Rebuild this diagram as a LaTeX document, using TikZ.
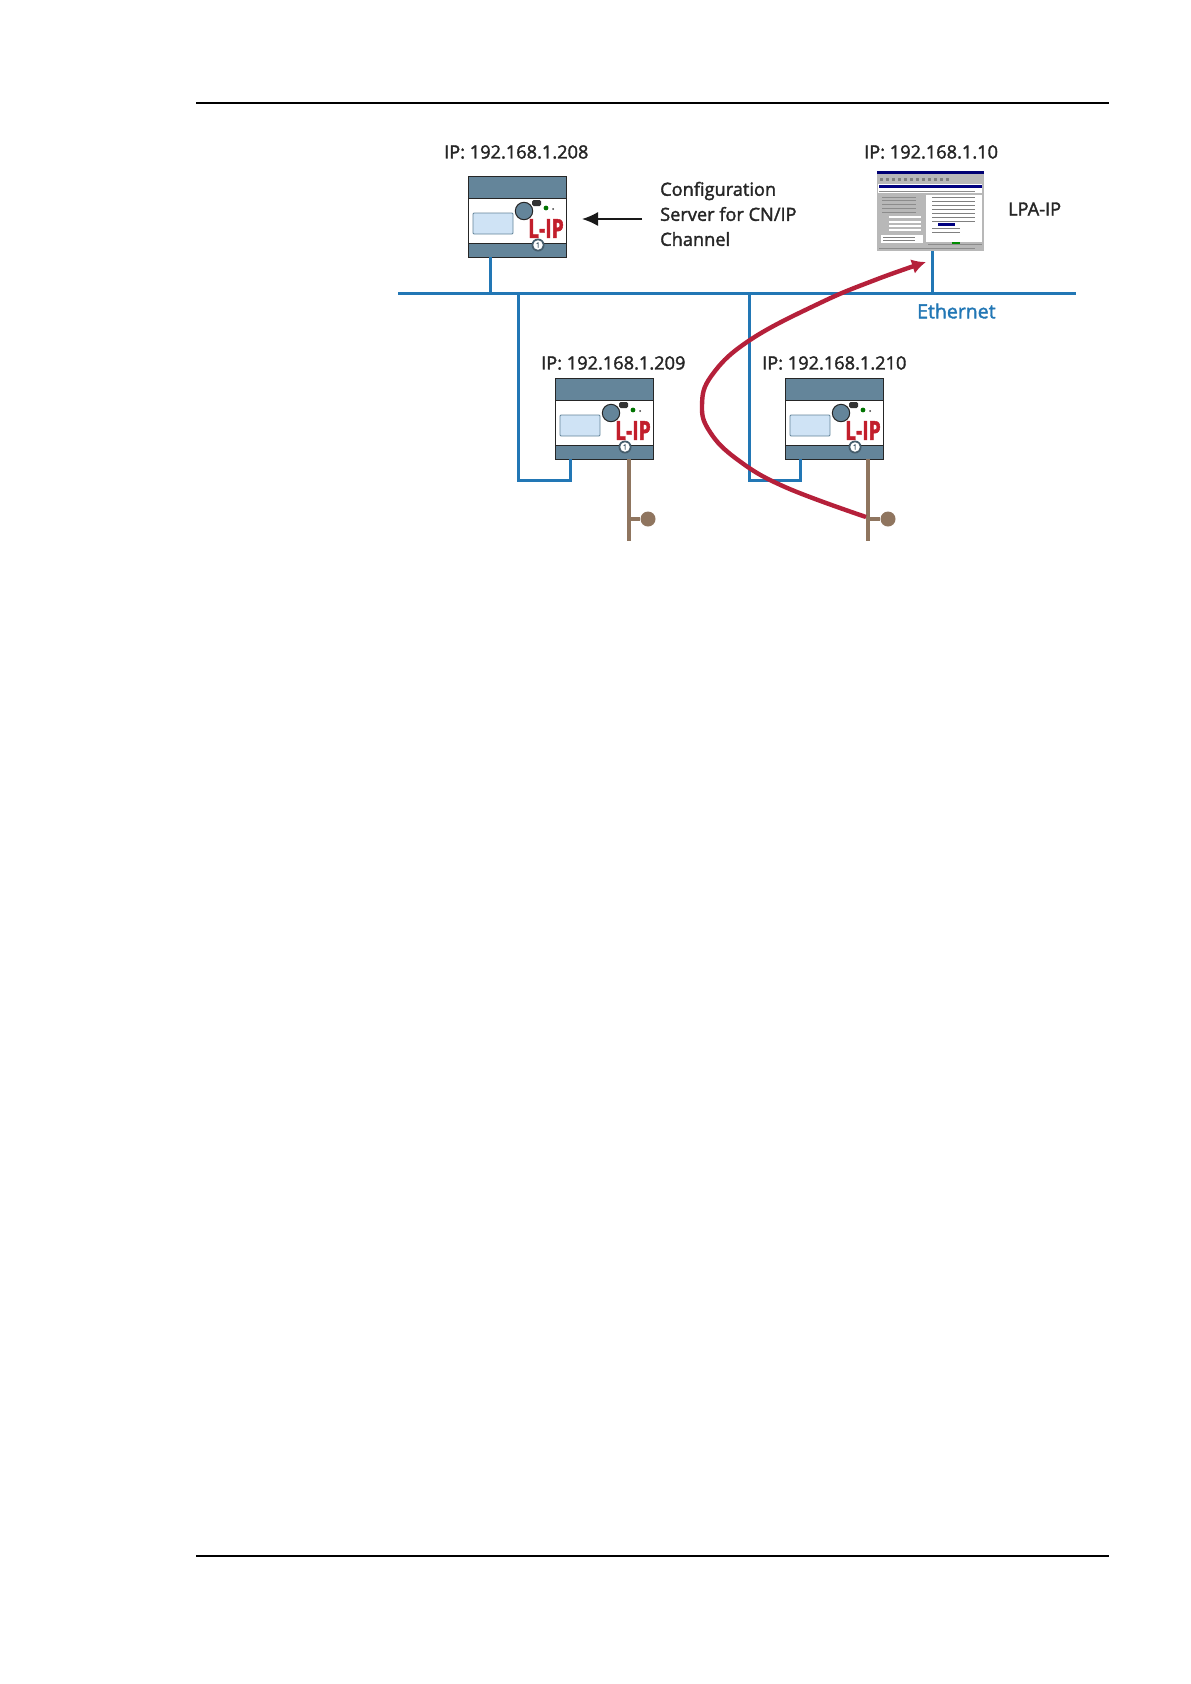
\documentclass[tikz,border=0pt]{standalone}
\usepackage{fontspec}
\setmainfont{Open Sans}[FakeBold=1.9]
\usetikzlibrary{arrows.meta}
\definecolor{ethblue}{HTML}{2277B5}
\definecolor{flowred}{HTML}{B5203A}
\definecolor{tagred}{HTML}{C21F2C}
\definecolor{busbrown}{HTML}{8F755F}
\definecolor{bandgrey}{HTML}{64859A}
\definecolor{lcdblue}{HTML}{CFE3F5}
\tikzset{
	ethline/.style={color=ethblue, line width=3pt},
	busline/.style={color=busbrown, line width=4.8pt},
	rule/.style={line width=2.4pt},
	iplabel/.style={font=\fontsize{18.2}{22}\selectfont, inner sep=0pt, text=black!85},
	devbox/.style={draw=black!85, line width=1pt, fill=white, minimum width=98pt, minimum height=81pt, inner sep=0pt, outer sep=0pt},
	pics/devunit/.style={code={
		\node[devbox, anchor=north west] (box) at (0,0) {};
		\fill[bandgrey] (0,0) rectangle (98,22);
		\fill[bandgrey] (0,67) rectangle (98,81);
		\draw[black!85, line width=1pt] (0,0) rectangle (98,81);
		\draw[black!85, line width=1pt] (0,22) -- (98,22);
		\draw[black!85, line width=1pt] (0,67) -- (98,67);
		\draw[fill=lcdblue, draw=bandgrey, line width=.8pt, rounded corners=1pt] (5,37) rectangle (45,58);
		\draw[fill=bandgrey, draw=black!85, line width=1pt] (56,35) circle (8.7);
		\fill[black!80, rounded corners=1.5pt] (64,24) rectangle (73,30);
		\fill[green!45!black] (78,32) circle (2.4);
		\fill[black!75] (85,33) circle (1);
		\fill[bandgrey!70!black] (70,69) circle (6.5);
		\node[font=\fontsize{26}{26}\selectfont\bfseries, text=tagred, xscale=.74, inner sep=0pt] (tag) at (78,52.5) {L-IP};
		\node[circle, fill=white, inner sep=0pt, minimum size=9.5pt, font=\fontsize{7}{7}\selectfont, text=bandgrey!70!black] (num) at (70,69) {1};
	}}
}
\begin{document}
\begin{tikzpicture}[x=1pt, y=-1pt]
	\useasboundingbox (0,0) rectangle (1191,1684);
	% page rules
	\coordinate (topL) at (196,103);
	\coordinate (topR) at (1109,103);
	\coordinate (botL) at (196,1556);
	\coordinate (botR) at (1109,1556);
	\draw[rule] (topL) -- (topR);
	\draw[rule] (botL) -- (botR);
	% devices
	\pic (devA) at (468,176) {devunit};
	\pic (devB) at (555,378) {devunit};
	\pic (devC) at (785,378) {devunit};
	\node[iplabel, anchor=west] (ipA) at (444,152) {IP: 192.168.1.208};
	\node[iplabel, anchor=west] (ipB) at (541,363) {IP: 192.168.1.209};
	\node[iplabel, anchor=west] (ipC) at (762,363) {IP: 192.168.1.210};
	\node[iplabel, anchor=west] (ipPC) at (864,152) {IP: 192.168.1.10};
	\node[iplabel, anchor=west] (lpa) at (1008,209) {LPA-IP};
	\node[iplabel, anchor=west] (cfgA) at (660,191) {Configuration};
	\node[iplabel, anchor=west] (cfgB) at (660,214) {Server for CN/IP};
	\node[iplabel, anchor=west] (cfgC) at (660,239) {Channel};
	\node[iplabel, anchor=west, text=ethblue, font=\fontsize{19.5}{22}\selectfont] (eth) at (917,311) {Ethernet};
	% screenshot
	\node[draw=none, fill=black!28, minimum width=107pt, minimum height=80pt, inner sep=0pt, outer sep=0pt, anchor=north west] (pc) at (877,171) {};
	\fill[blue!45!black] (877,171) rectangle (984,174);
	\fill[white] (878,184) rectangle (982,193);
	\fill[blue!50!black] (879,185) rectangle (982,188);
	\fill[white] (926,195) rectangle (982,242);
	\fill[white] (881,235) rectangle (923,243);
	\fill[green!55!black] (952,242) rectangle (960,245);
	\fill[blue!50!black] (938,223) rectangle (955,226);
	\foreach \yy in {197,201,...,221}
		\draw[black!50, line width=.9pt] (932,\yy) -- (975,\yy);
	\foreach \yy in {228,232}
		\draw[black!50, line width=.9pt] (932,\yy) -- (960,\yy);
	\foreach \yy in {217,222,226,230}
		\draw[white, line width=1.6pt] (889,\yy) -- (921,\yy);
	\foreach \yy in {197,200,204,208,212}
		\draw[black!45, line width=.9pt] (882,\yy) -- (916,\yy);
	\foreach \yy in {237,240}
		\draw[black!50, line width=.7pt] (883,\yy) -- (915,\yy);
	\foreach \xx in {880,886,...,950}
		\fill[black!50] (\xx,178) rectangle ++(3,3);
	\draw[black!45, line width=.9pt] (879,191) -- (975,191);
	\draw[black!45, line width=.9pt] (928,244) -- (982,244);
	\draw[black!45, line width=.9pt] (879,248) -- (975,248);
	% ethernet
	\coordinate (ethL) at (398,293);
	\coordinate (ethR) at (1076,293);
	\coordinate (tapA) at (490,293);
	\coordinate (tapB) at (518,293);
	\coordinate (tapC) at (749,293);
	\coordinate (tapPC) at (932,293);
	\coordinate (downB) at (570,459);
	\coordinate (downC) at (800,459);
	\draw[ethline] (ethL) -- (ethR);
	\draw[ethline] (tapA |- devAbox.south) -- (tapA);
	\draw[ethline] (tapPC) -- (tapPC |- pc.south);
	\draw[ethline] (tapB) -- (518,480) -- (570,480) -- (downB);
	\draw[ethline] (tapC) -- (749,480) -- (800,480) -- (downC);
	% field bus
	\node[circle, fill=busbrown, minimum size=15pt, inner sep=0pt] (endB) at (648,519) {};
	\node[circle, fill=busbrown, minimum size=15pt, inner sep=0pt] (endC) at (888,519) {};
	\coordinate (busB) at (629,519);
	\coordinate (busC) at (868,519);
	\coordinate (busBend) at (629,541);
	\coordinate (busCend) at (868,541);
	\draw[busline] (busB |- devBbox.south) -- (busBend);
	\draw[busline] (busC |- devCbox.south) -- (busCend);
	\draw[busline, line width=3.4pt] (busB) -- (endB);
	\draw[busline, line width=3.4pt] (busC) -- (endC);
	% arrows
	\coordinate (cfgTail) at (642,219);
	\coordinate (cfgTip) at (582,219);
	\draw[-{Latex[length=16pt, width=14pt]}, line width=1.5pt, black!90] (cfgTail) -- (cfgTip);
	\coordinate (flowTip) at (926,262);
	\draw[flowred, line width=4.4pt, -{Latex[length=14pt, width=15pt]}] plot[smooth, tension=.7] coordinates {(866,517) (785,487) (738,460) (710,432) (702,405) (712,375) (750,340) (820,303) (875,280) (flowTip)};
\end{tikzpicture}
\end{document}
